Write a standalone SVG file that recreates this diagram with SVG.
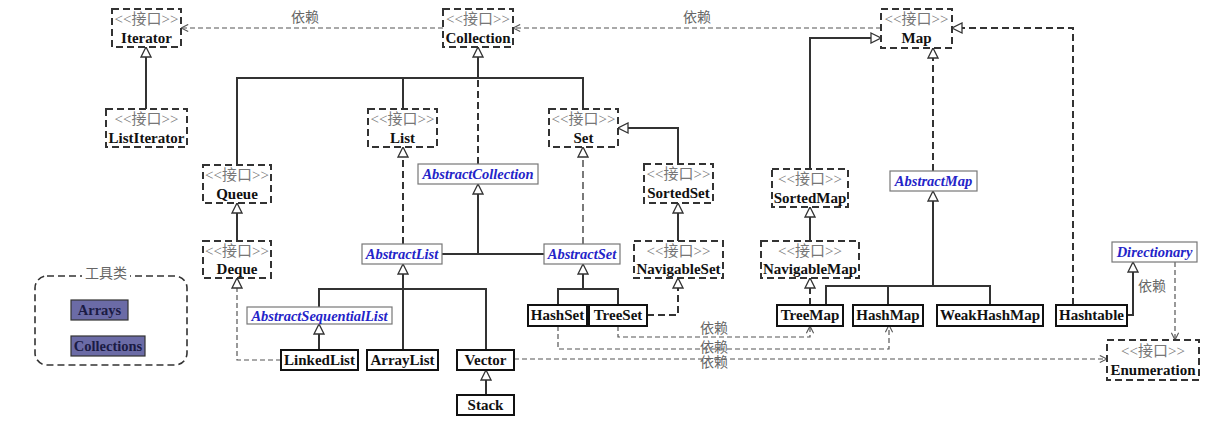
<svg xmlns="http://www.w3.org/2000/svg" width="1220" height="447" viewBox="0 0 1220 447">
<style>
.bg{fill:#fff}
.itf{fill:#fff;stroke:#333;stroke-width:2;stroke-dasharray:7,4}
.abs{fill:#fff;stroke:#777;stroke-width:1.2}
.cls{fill:#fff;stroke:#111;stroke-width:2}
.st{font-family:"Liberation Serif","Noto Sans CJK SC",serif;font-size:15px;fill:#777;text-anchor:middle}
.nm{font-family:"Liberation Serif",serif;font-size:15px;font-weight:bold;fill:#111;text-anchor:middle}
.an{font-family:"Liberation Serif",serif;font-size:14.5px;font-weight:bold;font-style:italic;fill:#2424c8;text-anchor:middle}
.dep{font-family:"Liberation Serif","Noto Sans CJK SC",serif;font-size:14px;fill:#666;text-anchor:middle}
.gen{fill:none;stroke:#333;stroke-width:2}
.real{fill:none;stroke:#333;stroke-width:2;stroke-dasharray:7,4}
.dp{fill:none;stroke:#555;stroke-width:1.2;stroke-dasharray:5,3}
.tool{fill:#6b6ba6;stroke:#333;stroke-width:1.2}
.tn{font-family:"Liberation Serif",serif;font-size:14.5px;font-weight:bold;fill:#1b1b44;text-anchor:middle}
</style>
<defs>
<marker id="tri" viewBox="0 0 12 12" refX="11" refY="6" markerWidth="12" markerHeight="12" orient="auto" markerUnits="userSpaceOnUse">
<path d="M1,1 L11,6 L1,11 Z" fill="#fff" stroke="#333" stroke-width="1.3" stroke-dasharray="none"/>
</marker>
<marker id="open" viewBox="0 0 10 10" refX="9" refY="5" markerWidth="9" markerHeight="9" orient="auto" markerUnits="userSpaceOnUse">
<path d="M1,1 L9,5 L1,9" fill="none" stroke="#555" stroke-width="1.2"/>
</marker>
</defs>
<rect class="bg" x="0" y="0" width="1220" height="447"/>

<g id="connectors">
<path class="gen" d="M146,109 V47" marker-end="url(#tri)"/>
<path class="gen" d="M478,78 V47" marker-end="url(#tri)"/>
<path class="gen" d="M237,165 V78 H583 V109"/>
<path class="gen" d="M403,78 V109"/>
<path class="gen" d="M237,241 V203" marker-end="url(#tri)"/>
<path class="gen" d="M678,164 V128 H618" marker-end="url(#tri)"/>
<path class="gen" d="M678,241 V203" marker-end="url(#tri)"/>
<path class="gen" d="M442,254 H544"/>
<path class="gen" d="M478,254 V184" marker-end="url(#tri)"/>
<path class="gen" d="M319,307 V289 H486 V350"/>
<path class="gen" d="M403,350 V264" marker-end="url(#tri)"/>
<path class="gen" d="M319,350 V324" marker-end="url(#tri)"/>
<path class="gen" d="M486,395 V370" marker-end="url(#tri)"/>
<path class="gen" d="M558,305 V289 H618 V305"/>
<path class="gen" d="M583,289 V264" marker-end="url(#tri)"/>
<path class="gen" d="M810,169 V38 H881" marker-end="url(#tri)"/>
<path class="gen" d="M810,241 V207" marker-end="url(#tri)"/>
<path class="gen" d="M826,305 V286 H990 V305"/>
<path class="gen" d="M888,286 V305"/>
<path class="gen" d="M933,286 V191" marker-end="url(#tri)"/>
<path class="gen" d="M1127,315 H1133 V262" marker-end="url(#tri)"/>
<path class="real" d="M478,80 V164"/>
<path class="real" d="M403,244 V147" marker-end="url(#tri)"/>
<path class="real" d="M583,244 V147" style="stroke-width:1.3" marker-end="url(#tri)"/>
<path class="real" d="M647,315 H678 V278" marker-end="url(#tri)"/>
<path class="real" d="M810,305 V278" marker-end="url(#tri)"/>
<path class="real" d="M933,171 V48" marker-end="url(#tri)"/>
<path class="real" d="M1073,305 V28 H952" marker-end="url(#tri)"/>
<path class="dp" d="M281,360 H237 V278" marker-end="url(#tri)"/>
<path class="dp" d="M443,28 H181" marker-end="url(#open)"/>
<path class="dp" d="M881,28 H513" marker-end="url(#open)"/>
<path class="dp" d="M618,326 V337 H810 V326" marker-end="url(#open)"/>
<path class="dp" d="M558,326 V349 H889 V325" marker-end="url(#open)"/>
<path class="dp" d="M514,359 H1107" marker-end="url(#open)"/>
<path class="dp" d="M1175,262 V340" marker-end="url(#open)"/>
<text class="dep" x="305" y="22">依赖</text>
<text class="dep" x="697" y="22">依赖</text>
<text class="dep" x="714" y="333">依赖</text>
<text class="dep" x="714" y="352">依赖</text>
<text class="dep" x="714" y="367">依赖</text>
<text class="dep" x="1152" y="291">依赖</text>
</g>

<g id="Iterator"><rect class="itf" x="112" y="9" width="69" height="38"/><text class="st" x="146.5" y="24">&lt;&lt;接口&gt;&gt;</text><text class="nm" x="146.5" y="43">Iterator</text></g>
<g id="ListIterator"><rect class="itf" x="106" y="109" width="81" height="38"/><text class="st" x="146.5" y="124">&lt;&lt;接口&gt;&gt;</text><text class="nm" x="146.5" y="143">ListIterator</text></g>
<g id="Collection"><rect class="itf" x="443" y="9" width="70" height="38"/><text class="st" x="478" y="24">&lt;&lt;接口&gt;&gt;</text><text class="nm" x="478" y="43">Collection</text></g>
<g id="List"><rect class="itf" x="368" y="109" width="69" height="38"/><text class="st" x="402.5" y="124">&lt;&lt;接口&gt;&gt;</text><text class="nm" x="402.5" y="143">List</text></g>
<g id="Set"><rect class="itf" x="549" y="109" width="69" height="38"/><text class="st" x="583.5" y="124">&lt;&lt;接口&gt;&gt;</text><text class="nm" x="583.5" y="143">Set</text></g>
<g id="Map"><rect class="itf" x="881" y="9" width="71" height="39"/><text class="st" x="916.5" y="24">&lt;&lt;接口&gt;&gt;</text><text class="nm" x="916.5" y="43">Map</text></g>
<g id="Queue"><rect class="itf" x="203" y="165" width="68" height="38"/><text class="st" x="237" y="180">&lt;&lt;接口&gt;&gt;</text><text class="nm" x="237" y="199">Queue</text></g>
<g id="Deque"><rect class="itf" x="203" y="241" width="68" height="37"/><text class="st" x="237" y="256">&lt;&lt;接口&gt;&gt;</text><text class="nm" x="237" y="274">Deque</text></g>
<g id="SortedSet"><rect class="itf" x="644" y="164" width="69" height="39"/><text class="st" x="678.5" y="179">&lt;&lt;接口&gt;&gt;</text><text class="nm" x="678.5" y="198">SortedSet</text></g>
<g id="NavigableSet"><rect class="itf" x="634" y="241" width="89" height="37"/><text class="st" x="678.5" y="256">&lt;&lt;接口&gt;&gt;</text><text class="nm" x="678.5" y="274">NavigableSet</text></g>
<g id="SortedMap"><rect class="itf" x="772" y="169" width="76" height="38"/><text class="st" x="810" y="184">&lt;&lt;接口&gt;&gt;</text><text class="nm" x="810" y="203">SortedMap</text></g>
<g id="NavigableMap"><rect class="itf" x="761" y="241" width="98" height="37"/><text class="st" x="810" y="256">&lt;&lt;接口&gt;&gt;</text><text class="nm" x="810" y="274">NavigableMap</text></g>
<g id="Enumeration"><rect class="itf" x="1107" y="340" width="92" height="40"/><text class="st" x="1153" y="356">&lt;&lt;接口&gt;&gt;</text><text class="nm" x="1153" y="375">Enumeration</text></g>

<g id="AbstractCollection"><rect class="abs" x="418" y="164" width="120" height="20"/><text class="an" x="478" y="179">AbstractCollection</text></g>
<g id="AbstractList"><rect class="abs" x="362" y="244" width="80" height="20"/><text class="an" x="402" y="259">AbstractList</text></g>
<g id="AbstractSet"><rect class="abs" x="544" y="244" width="76" height="20"/><text class="an" x="582" y="259">AbstractSet</text></g>
<g id="AbstractMap"><rect class="abs" x="890" y="171" width="87" height="20"/><text class="an" x="933.5" y="186">AbstractMap</text></g>
<g id="Directionary"><rect class="abs" x="1112" y="242" width="85" height="20"/><text class="an" x="1154.5" y="257">Directionary</text></g>
<g id="AbstractSequentialList"><rect class="abs" x="247" y="307" width="145" height="17"/><text class="an" x="319.5" y="321">AbstractSequentialList</text></g>

<g id="HashSet"><rect class="cls" x="528" y="305" width="59" height="21"/><text class="nm" x="557.5" y="320">HashSet</text></g>
<g id="TreeSet"><rect class="cls" x="589" y="305" width="58" height="21"/><text class="nm" x="618" y="320">TreeSet</text></g>
<g id="TreeMap"><rect class="cls" x="777" y="305" width="66" height="21"/><text class="nm" x="810" y="320">TreeMap</text></g>
<g id="HashMap"><rect class="cls" x="853" y="305" width="70" height="21"/><text class="nm" x="888" y="320">HashMap</text></g>
<g id="WeakHashMap"><rect class="cls" x="937" y="305" width="106" height="21"/><text class="nm" x="990" y="320">WeakHashMap</text></g>
<g id="Hashtable"><rect class="cls" x="1056" y="305" width="71" height="21"/><text class="nm" x="1091.5" y="320">Hashtable</text></g>
<g id="LinkedList"><rect class="cls" x="281" y="350" width="77" height="20"/><text class="nm" x="319.5" y="365">LinkedList</text></g>
<g id="ArrayList"><rect class="cls" x="367" y="350" width="71" height="20"/><text class="nm" x="402.5" y="365">ArrayList</text></g>
<g id="Vector"><rect class="cls" x="457" y="350" width="57" height="20"/><text class="nm" x="485.5" y="365">Vector</text></g>
<g id="Stack"><rect class="cls" x="457" y="395" width="57" height="20"/><text class="nm" x="485.5" y="410">Stack</text></g>

<g id="tools">
<rect x="35" y="276" width="152" height="89" rx="12" fill="none" stroke="#333" stroke-width="1.6" stroke-dasharray="7,4"/>
<rect x="82" y="266" width="48" height="18" fill="#fff"/>
<text class="dep" x="106" y="278">工具类</text>
<g id="Arrays"><rect class="tool" x="71" y="300" width="57" height="20"/><text class="tn" x="99.5" y="315">Arrays</text></g>
<g id="Collections"><rect class="tool" x="71" y="336" width="74" height="20"/><text class="tn" x="108" y="351">Collections</text></g>
</g>
</svg>
